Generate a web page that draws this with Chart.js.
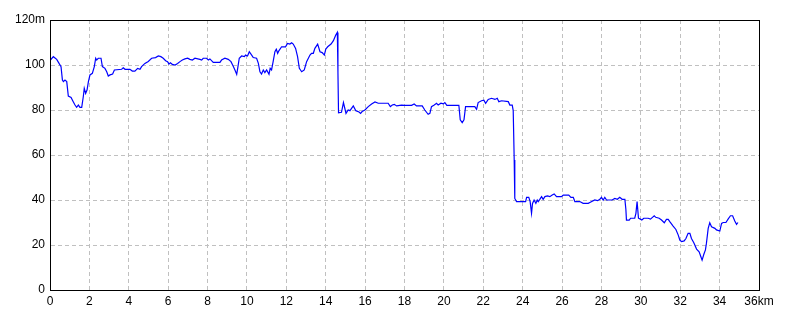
<!DOCTYPE html>
<html>
<head>
<meta charset="utf-8">
<script src="https://cdn.jsdelivr.net/npm/chart.js@4/dist/chart.umd.min.js"></script>
<style>
  html, body { margin: 0; padding: 0; background: #fff; }
  #wrap { width: 800px; height: 320px; }
</style>
</head>
<body>
<div id="wrap"><canvas id="profile" width="800" height="320"></canvas></div>
<script>
// distance along the route (km) and elevation (m)
const distKm = [
  0, 0.17, 0.34, 0.46, 0.56, 0.63, 0.68, 0.76, 0.85, 0.93, 1.07, 1.18, 1.27, 1.35, 1.44, 1.52, 1.61, 1.69, 1.74, 1.81,
  1.88, 1.95, 2.03, 2.15, 2.25, 2.32, 2.37, 2.45, 2.59, 2.66, 2.79, 2.88, 2.96, 3.05, 3.18, 3.27, 3.64, 3.72, 3.81, 4.06,
  4.18, 4.31, 4.45, 4.57, 4.65, 4.82, 4.99, 5.16, 5.36, 5.5, 5.63, 5.75, 5.87, 5.97, 6.04, 6.11, 6.21, 6.35, 6.48, 6.6,
  6.72, 6.85, 6.99, 7.1, 7.23, 7.36, 7.61, 7.7, 7.78, 7.95, 8.04, 8.12, 8.29, 8.63, 8.71, 8.88, 9.05, 9.19, 9.31, 9.39,
  9.48, 9.53, 9.61, 9.73, 9.87, 9.93, 10.03, 10.12, 10.24, 10.32, 10.49, 10.58, 10.66, 10.74, 10.83, 10.91, 11.0, 11.12, 11.18, 11.25,
  11.33, 11.42, 11.49, 11.56, 11.62, 11.76, 11.96, 12.06, 12.18, 12.27, 12.35, 12.47, 12.57, 12.66, 12.78, 12.91, 13.03, 13.2, 13.28, 13.37,
  13.45, 13.59, 13.71, 13.82, 13.93, 14.0, 14.1, 14.27, 14.39, 14.51, 14.59, 14.62, 14.65, 14.8, 14.9, 15.03, 15.14, 15.23, 15.4, 15.53,
  15.69, 15.77, 15.85, 15.99, 16.16, 16.33, 16.5, 16.67, 17.17, 17.28, 17.38, 17.48, 17.6, 17.85, 18.02, 18.36, 18.49, 18.61, 18.9, 19.03,
  19.2, 19.29, 19.37, 19.51, 19.63, 19.71, 19.85, 19.97, 20.05, 20.15, 20.25, 20.76, 20.83, 20.93, 21.02, 21.1, 21.57, 21.66, 21.74, 21.91,
  22.03, 22.12, 22.25, 22.42, 22.59, 22.71, 22.79, 22.93, 23.27, 23.35, 23.47, 23.52, 23.57, 23.6, 23.69, 24.15, 24.2, 24.31, 24.38, 24.45,
  24.5, 24.58, 24.67, 24.74, 24.79, 24.87, 24.96, 25.04, 25.13, 25.26, 25.38, 25.5, 25.6, 25.72, 25.97, 26.06, 26.34, 26.45, 26.57, 26.65,
  26.9, 27.07, 27.33, 27.41, 27.66, 27.8, 27.92, 28.0, 28.09, 28.17, 28.26, 28.54, 28.68, 28.81, 28.93, 29.05, 29.19, 29.24, 29.27, 29.41,
  29.48, 29.69, 29.75, 29.81, 29.88, 29.98, 30.05, 30.15, 30.37, 30.49, 30.59, 30.68, 30.76, 30.93, 31.05, 31.19, 31.3, 31.39, 31.47, 31.64,
  31.78, 31.9, 31.98, 32.07, 32.2, 32.29, 32.4, 32.49, 32.57, 32.69, 32.83, 32.96, 33.05, 33.11, 33.2, 33.28, 33.33, 33.42, 33.5, 33.59,
  33.76, 33.84, 34.01, 34.1, 34.18, 34.32, 34.43, 34.55, 34.66, 34.77, 34.86, 34.93
];
const elevM = [
  102, 103.7, 102.5, 100.7, 99.3, 93.3, 92.6, 93.3, 92.6, 86.2, 85.6, 83.7, 82.2, 81.2, 82.2, 81.2, 81.2, 85.9, 89.6, 87.4,
  88.9, 92.6, 95.6, 96.3, 99.3, 103, 102.2, 103, 103, 99.3, 98.5, 97, 95.1, 95.6, 96, 97.8, 98.1, 98.8, 98.1, 98.1,
  97.3, 97.3, 98.5, 98.1, 99.3, 100.7, 101.6, 103, 103.3, 104, 103.7, 103, 101.9, 101.5, 100.4, 101, 100.3, 100, 100.7, 101.5,
  102.2, 102.7, 103, 102.5, 102.2, 103, 102.5, 102.2, 103, 103, 102.2, 102.7, 101.2, 101.2, 102.2, 103, 102.5, 101.5, 99.3, 97.8,
  95.9, 98.5, 103, 104, 103.7, 104.4, 104, 105.9, 104.4, 103.3, 103, 100.7, 97, 96, 97.8, 96.6, 97.8, 95.9, 98.5, 97.8,
  101.5, 105.9, 107, 105.2, 106.3, 108.1, 108.1, 109.6, 109.3, 109.9, 109.3, 107.4, 103.7, 98.5, 97, 97.8, 101.5, 104.4, 105.2, 105.2,
  107.4, 109.3, 105.9, 105.5, 104.4, 107, 108.1, 109.3, 110.8, 113.3, 114.5, 97, 78.8, 79, 83.3, 78.5, 80, 79.7, 81.8, 79.7,
  79.1, 78.5, 79.3, 80, 81.5, 82.7, 83.6, 83, 83, 81.5, 82.2, 82.5, 81.8, 82.2, 82.1, 82.1, 82.7, 81.8, 81.8, 80,
  78.1, 78.5, 81.5, 82.2, 83, 82.2, 83, 82.7, 83.3, 82.1, 82.1, 82.1, 75.6, 74.4, 75.6, 81.5, 81.5, 80.3, 83.3, 84.1,
  84.4, 83, 84.7, 85.2, 84.7, 85.2, 83.7, 84.1, 83.7, 82.2, 82.2, 79.7, 57.8, 40.7, 39.3, 39.3, 41.2, 41.2, 39.3, 34.1,
  38.5, 40, 38.5, 40, 39.3, 40.3, 41.5, 40.3, 41.5, 41.8, 41.5, 42.2, 42.7, 41.5, 41.5, 42.2, 42.2, 41.2, 41.2, 39.3,
  39.3, 38.5, 38.5, 38.9, 40, 39.7, 40.3, 41.2, 40, 41.2, 40, 40, 40.7, 40.3, 41.2, 40.3, 40.3, 35.9, 31.1, 31.1,
  31.9, 31.9, 34.1, 39.3, 31.9, 31.5, 31.1, 31.9, 31.9, 31.5, 32.3, 33, 32.3, 31.9, 31.1, 29.9, 31.4, 31.4, 30.4, 28.4,
  26.9, 24.4, 22.2, 21.5, 21.8, 22.9, 25.2, 25.2, 22.9, 21, 18.2, 17, 14.8, 13.3, 15.9, 17.8, 20.7, 27.4, 29.9, 28.1,
  27.4, 26.7, 26.2, 29.6, 30, 30, 31.5, 33, 33, 30.7, 29.2, 30
];

// axis ranges and the unit suffix shown on the last tick
const xMax = 36, xStep = 2, xUnit = "km";
const yMax = 120, yStep = 20, yUnit = "m";

const points = distKm.map((d, i) => ({ x: d, y: elevM[i] }));

// black frame round the plot area
const frame = {
    id: "frame",
    afterDraw(chart) {
        const { ctx, chartArea: a } = chart;
        ctx.save();
        ctx.strokeStyle = "#000";
        ctx.lineWidth = 1;
        ctx.strokeRect(Math.round(a.left) + 0.5, Math.round(a.top) + 0.5,
            Math.round(a.right - a.left), Math.round(a.bottom - a.top));
        ctx.restore();
    }
};

const tickFont = { family: "'Liberation Sans', Arial, sans-serif", size: 12 };

new Chart(document.getElementById("profile").getContext("2d"), {
    type: "scatter",
    data: {
        datasets: [{
            data: points,
            showLine: true,
            borderColor: "#0000ff",
            borderWidth: 1.2,
            pointRadius: 0,
            tension: 0
        }]
    },
    options: {
        responsive: false,
        animation: false,
        layout: { padding: { top: 20, right: 41, left: 0, bottom: 0 } },
        plugins: { legend: { display: false }, tooltip: { enabled: false } },
        scales: {
            x: {
                type: "linear",
                min: 0,
                max: xMax,
                afterFit: (s) => { s.height = 30; },
                ticks: {
                    stepSize: xStep,
                    color: "#000",
                    font: tickFont,
                    padding: 4,
                    maxRotation: 0,
                    callback: (v) => v === xMax ? v + xUnit : v
                },
                grid: { color: "#c0c0c0", drawTicks: false },
                border: { color: "#000", dash: [4, 3] }
            },
            y: {
                min: 0,
                max: yMax,
                afterFit: (s) => { s.width = 50; },
                ticks: {
                    stepSize: yStep,
                    color: "#000",
                    font: tickFont,
                    padding: 5,
                    callback: (v) => v === yMax ? v + yUnit : v
                },
                grid: { color: "#c0c0c0", drawTicks: false },
                border: { color: "#000", dash: [4, 3] }
            }
        }
    },
    plugins: [frame]
});
</script>
</body>
</html>
